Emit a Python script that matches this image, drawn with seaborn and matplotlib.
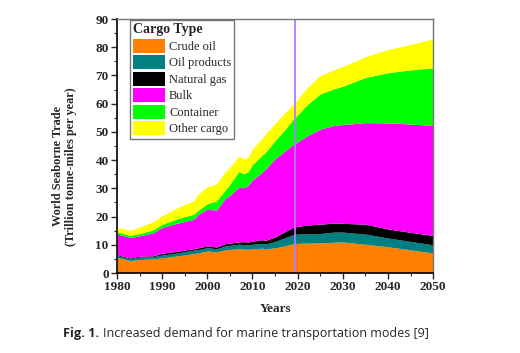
import matplotlib
matplotlib.use("Agg")
import matplotlib.pyplot as plt
from matplotlib.ticker import MultipleLocator
from matplotlib.patches import Patch
import seaborn as sns
import numpy as np

# values (trillion tonne-miles per year)
years = [1980, 1983, 1985, 1988, 1990, 1993, 1995, 1997, 1998, 2000, 2002, 2004,
         2005, 2007, 2008, 2009, 2010, 2012, 2013, 2015, 2017, 2019, 2020, 2022,
         2025, 2028, 2030, 2035, 2040, 2045, 2050]
crude_oil = [5.5, 4.4, 4.8, 5.0, 5.4, 6.0, 6.4, 6.9, 7.1, 7.8, 7.5, 8.2,
             8.4, 8.6, 8.5, 8.4, 8.6, 8.8, 8.6, 8.9, 9.6, 10.4, 10.5, 10.6,
             10.7, 10.9, 11.0, 10.2, 9.3, 8.2, 7.1]
oil_products = [0.7, 0.6, 0.9, 0.8, 1.0, 1.0, 1.2, 1.2, 1.2, 1.2, 1.1, 1.4,
                1.4, 1.6, 1.6, 1.6, 1.6, 1.7, 1.7, 2.3, 2.8, 3.2, 3.3, 3.3,
                3.3, 3.6, 3.5, 3.6, 3.1, 3.0, 2.9]
natural_gas = [0.3, 0.3, 0.3, 0.3, 0.6, 0.6, 0.5, 0.5, 0.6, 0.6, 0.6, 0.8,
               0.8, 0.8, 1.0, 1.0, 1.1, 1.3, 1.3, 1.6, 2.1, 2.6, 2.7, 3.1,
               3.3, 3.2, 3.1, 3.5, 3.2, 3.2, 3.3]
bulk = [7.3, 7.3, 7.2, 8.1, 9.2, 9.9, 10.2, 10.4, 11.9, 13.0, 13.1, 16.1,
        16.9, 19.5, 19.1, 20.0, 21.7, 23.7, 25.4, 27.7, 28.5, 29.3, 30.0, 31.5,
        33.7, 34.6, 35.0, 36.0, 37.6, 38.4, 39.0]
container = [0.8, 0.7, 0.8, 1.1, 1.1, 1.5, 1.7, 1.8, 1.5, 2.0, 3.2, 3.0,
             4.0, 5.5, 5.0, 4.8, 5.5, 6.0, 6.0, 6.5, 7.5, 9.0, 9.5, 11.0,
             12.5, 13.0, 13.6, 16.0, 17.8, 19.2, 20.4]
other_cargo = [1.5, 1.8, 2.3, 2.9, 3.0, 3.8, 4.3, 4.8, 5.7, 6.0, 6.0, 6.5,
               6.0, 5.5, 5.3, 5.2, 5.5, 6.0, 6.5, 6.0, 6.0, 5.3, 5.5, 6.0,
               6.5, 6.7, 7.0, 7.4, 8.2, 9.0, 10.3]

labels = ["Crude oil", "Oil products", "Natural gas", "Bulk", "Container", "Other cargo"]
colors = ["#FF8000", "#008080", "#000000", "#FF00FF", "#00FF00", "#FFFF00"]
forecast_start = 2019.5

sns.set_theme(style="ticks")
plt.rcParams["font.family"] = ["Liberation Serif", "DejaVu Serif"]

fig = plt.figure(figsize=(5.2, 3.53), dpi=100)
ax = fig.add_axes([0.225, 0.2266, 0.608, 0.7194])

series = np.vstack([crude_oil, oil_products, natural_gas, bulk, container, other_cargo])
ax.stackplot(years, series, colors=colors, labels=labels, linewidth=0)
ax.axvline(forecast_start, color="#B07CFF", linewidth=1.3)

ax.set_xlim(1980, 2050)
ax.set_ylim(0, 90)
ax.xaxis.set_major_locator(MultipleLocator(10))
ax.xaxis.set_minor_locator(MultipleLocator(5))
ax.yaxis.set_major_locator(MultipleLocator(10))
ax.yaxis.set_minor_locator(MultipleLocator(5))
ax.tick_params(which="major", direction="out", length=4, width=1, labelsize=9.5, pad=2)
ax.tick_params(which="minor", direction="out", length=2.5, width=0.8)
for lab in ax.get_xticklabels() + ax.get_yticklabels():
    lab.set_fontweight("bold")

for side in ["left", "bottom"]:
    ax.spines[side].set_color("black")
    ax.spines[side].set_linewidth(1.2)
for side in ["top", "right"]:
    ax.spines[side].set_color("#777777")
    ax.spines[side].set_linewidth(1.0)

ax.set_xlabel("Years", fontsize=9.5, fontweight="bold", labelpad=7)
ax.set_ylabel("World Seaborne Trade\n(Trillion tonne-miles per year)", fontsize=8.8,
              fontweight="bold", labelpad=13, y=0.42, linespacing=1.1)

handles = [Patch(facecolor=c, edgecolor="none") for c in colors]
leg = ax.legend(handles, labels, title="Cargo Type", loc="upper left",
                bbox_to_anchor=(0.04, 0.995), fontsize=9, title_fontsize=10,
                frameon=True, fancybox=False, borderpad=0.25, labelspacing=0.2,
                handlelength=2.6, handleheight=1.3, handletextpad=0.3,
                borderaxespad=0.0)
leg.get_title().set_fontweight("bold")
leg._legend_box.align = "left"
leg.get_frame().set_edgecolor("#555555")
leg.get_frame().set_linewidth(1.0)

# caption: bold "Fig. 1." followed by the regular text
fig_lbl = fig.text(0.121, 0.045, "Fig. 1.", fontsize=9.2, fontweight="bold",
                   family="Open Sans")
fig.canvas.draw()
bb = fig_lbl.get_window_extent()
fig.text(bb.x1 / fig.bbox.width + 0.008, 0.045,
         "Increased demand for marine transportation modes [9]",
         fontsize=9.0, family="Open Sans")

fig.savefig("out.png", dpi=100)
